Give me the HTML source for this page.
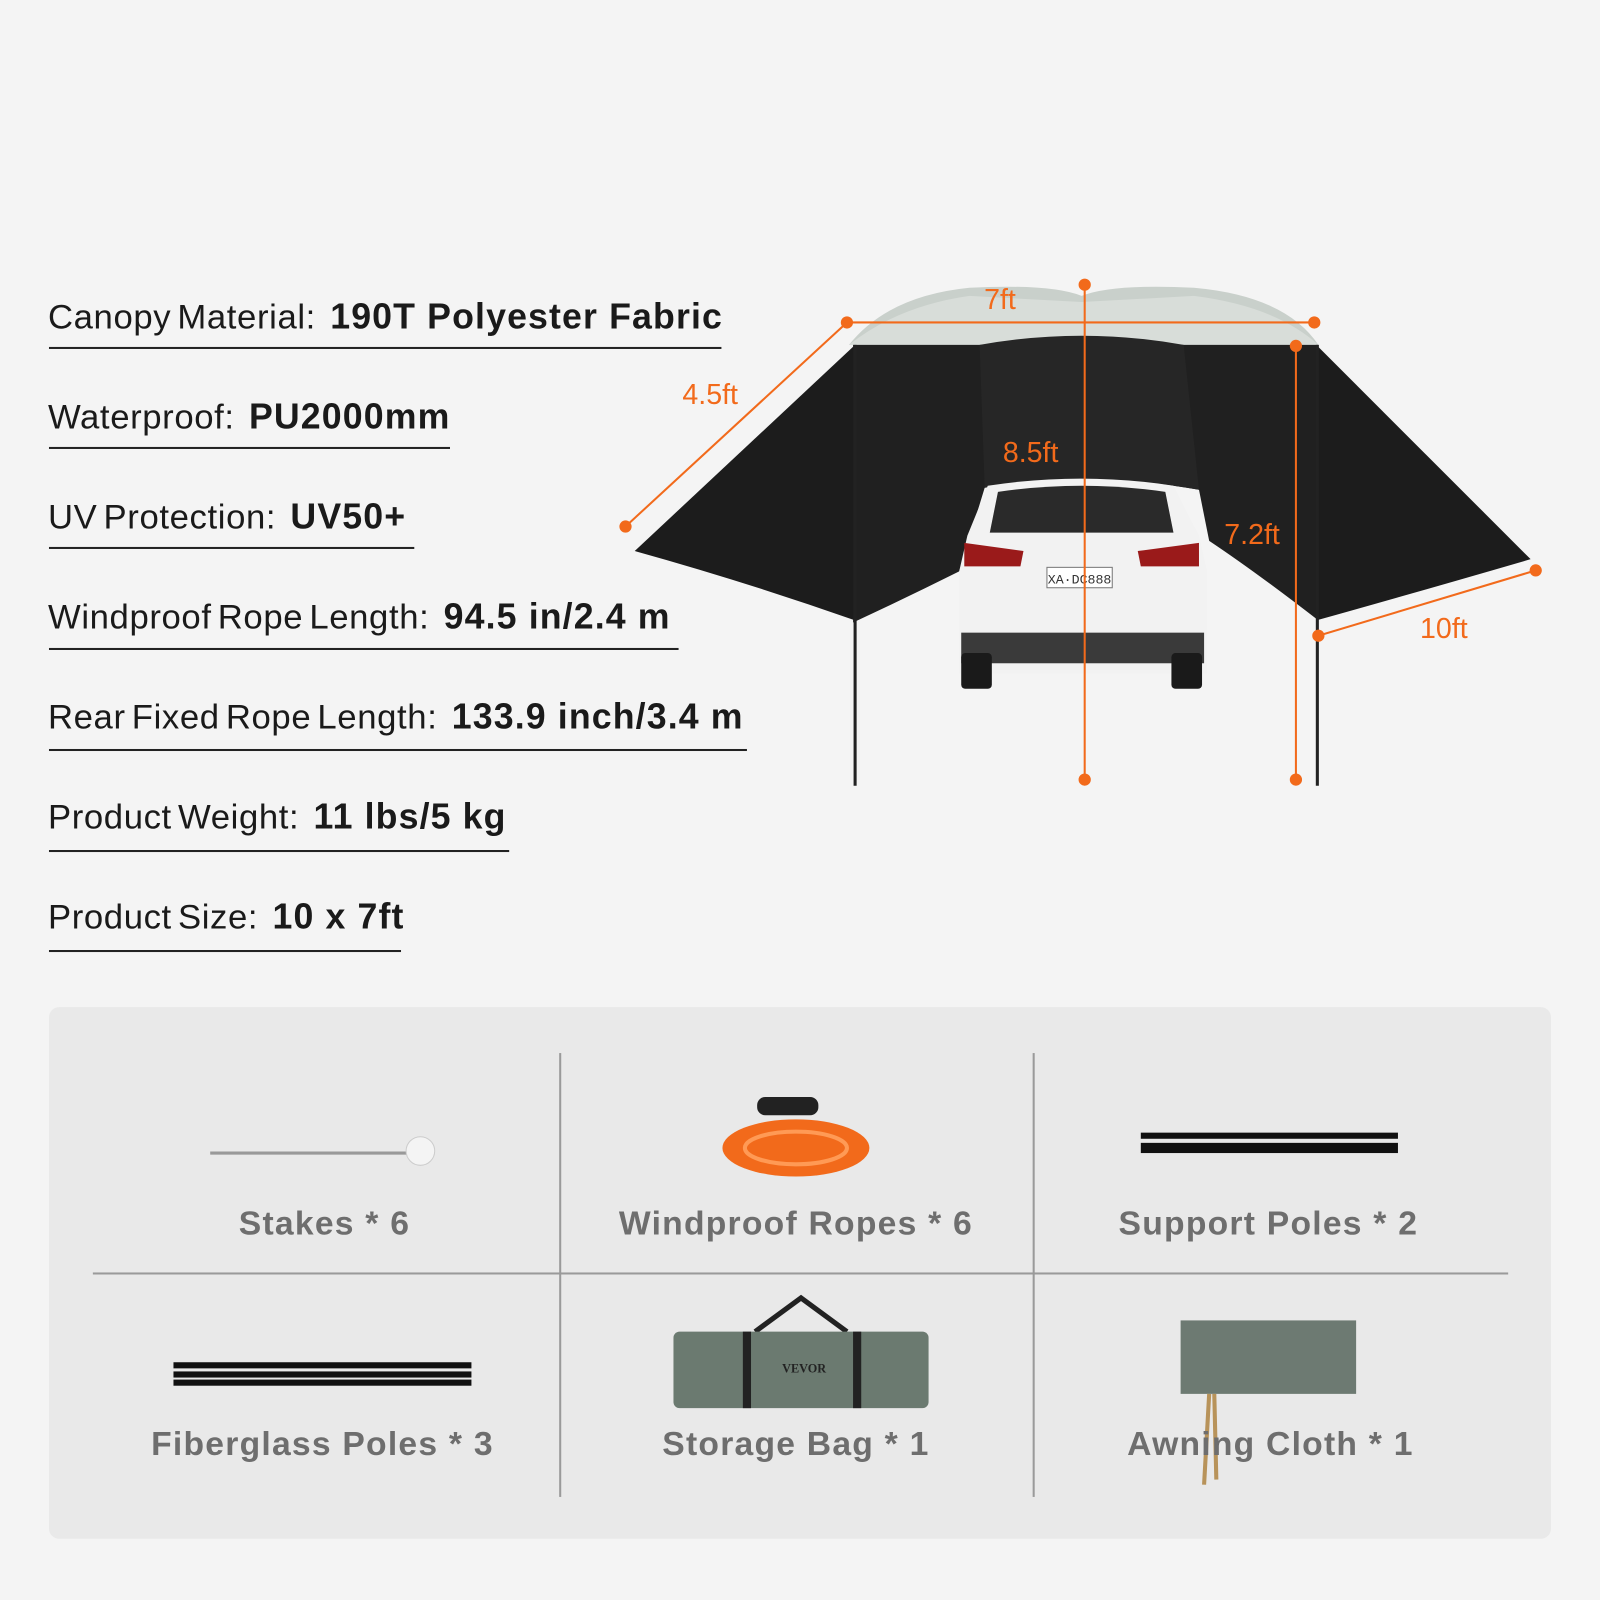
<!DOCTYPE html>
<html><head><meta charset="utf-8"><style>
html,body{margin:0;padding:0;background:#f4f4f4;}
#w{width:1568px;height:1568px;transform:scale(1.020408);transform-origin:0 0;position:relative;font-family:"Liberation Sans",Arial,sans-serif;}
.spec{position:absolute;left:47px;font-size:34px;color:#1a1a1a;white-space:nowrap;letter-spacing:0.6px;word-spacing:-4px}
.spec b{font-weight:bold;font-size:35px;margin-left:14px;letter-spacing:1.1px;word-spacing:0}
.ul{position:absolute;left:48px;height:2px;background:#222}
.panel{position:absolute;left:48px;top:987px;width:1472px;height:521px;background:#e9e9e9;border-radius:10px}
.lab{position:absolute;font-size:33px;font-weight:bold;color:#6e6e6e;transform:translateX(-50%);white-space:nowrap;letter-spacing:1.2px}
</style></head><body><div id="w">
<div class="spec" style="top:291px">Canopy Material:<b>190T Polyester Fabric</b></div><div class="ul" style="top:340px;width:659px"></div>
<div class="spec" style="top:389px">Waterproof:<b>PU2000mm</b></div><div class="ul" style="top:438px;width:393px"></div>
<div class="spec" style="top:487px">UV Protection:<b>UV50+</b></div><div class="ul" style="top:536px;width:358px"></div>
<div class="spec" style="top:585px">Windproof Rope Length:<b>94.5 in/2.4 m</b></div><div class="ul" style="top:635px;width:617px"></div>
<div class="spec" style="top:683px">Rear Fixed Rope Length:<b>133.9 inch/3.4 m</b></div><div class="ul" style="top:734px;width:684px"></div>
<div class="spec" style="top:781px">Product Weight:<b>11 lbs/5 kg</b></div><div class="ul" style="top:833px;width:451px"></div>
<div class="spec" style="top:879px">Product Size:<b>10 x 7ft</b></div><div class="ul" style="top:931px;width:345px"></div>

<svg style="position:absolute;left:0;top:0" width="1568" height="980">
<path d="M832,338 Q870,290 950,282 Q1030,278 1060,290 Q1090,278 1170,282 Q1260,290 1292,338 Z" fill="#c9d0cb"/>
<path d="M832,338 Q880,300 950,290 L1060,296 L1170,290 Q1250,300 1292,338 Z" fill="#d8ddd9"/>
<path d="M838,338 L622,540 Q730,570 838,608 Z" fill="#1c1c1c"/>
<path d="M1290,338 L1500,548 Q1390,580 1290,608 Z" fill="#1c1c1c"/>
<path d="M836,338 L1292,338 L1292,608 Q1230,560 1185,530 L1175,480 Q1060,460 965,478 L940,560 Q890,585 836,610 Z" fill="#202020"/>
<path d="M960,338 Q1060,320 1160,338 L1175,480 Q1060,460 965,478 Z" fill="#262626"/>
<line x1="838" y1="338" x2="838" y2="770" stroke="#222" stroke-width="3"/>
<line x1="1291" y1="338" x2="1291" y2="770" stroke="#222" stroke-width="3"/>
<path d="M968,476 Q1060,462 1150,476 L1175,525 L1183,560 L1183,660 L940,660 L940,560 L948,525 Z" fill="#f2f2f2"/>
<path d="M978,482 Q1060,470 1142,482 L1150,522 L970,522 Z" fill="#2a2a2a"/>
<path d="M945,532 L1003,540 L1000,555 L945,555 Z" fill="#9a1a1a"/>
<path d="M1175,532 L1115,540 L1118,555 L1175,555 Z" fill="#9a1a1a"/>
<rect x="1026" y="556" width="64" height="20" fill="#fff" stroke="#777"/>
<text x="1058" y="572" font-size="13" text-anchor="middle" font-family="Liberation Mono" fill="#333">XA·DC888</text>
<rect x="942" y="620" width="238" height="30" fill="#3a3a3a"/>
<rect x="942" y="640" width="30" height="35" rx="4" fill="#1a1a1a"/>
<rect x="1148" y="640" width="30" height="35" rx="4" fill="#1a1a1a"/>
<g stroke="#f26a1b" stroke-width="2" fill="#f26a1b">
<line x1="830" y1="316" x2="1288" y2="316"/><line x1="613" y1="516" x2="830" y2="316"/>
<line x1="1063" y1="279" x2="1063" y2="764"/><line x1="1270" y1="339" x2="1270" y2="764"/>
<line x1="1292" y1="623" x2="1505" y2="559"/>
<circle cx="830" cy="316" r="5"/><circle cx="1288" cy="316" r="5"/><circle cx="613" cy="516" r="5"/>
<circle cx="1063" cy="279" r="5"/><circle cx="1063" cy="764" r="5"/><circle cx="1270" cy="339" r="5"/>
<circle cx="1270" cy="764" r="5"/><circle cx="1292" cy="623" r="5"/><circle cx="1505" cy="559" r="5"/>
</g>
<g fill="#f26a1b" font-size="28" font-family="Liberation Sans" text-anchor="middle">
<text x="980" y="303">7ft</text><text x="696" y="396">4.5ft</text><text x="1010" y="453">8.5ft</text>
<text x="1227" y="533">7.2ft</text><text x="1415" y="625">10ft</text></g>
</svg>

<div class="panel"></div>
<div style="position:absolute;left:548px;top:1032px;width:2px;height:435px;background:#9a9a9a"></div>
<div style="position:absolute;left:1012px;top:1032px;width:2px;height:435px;background:#9a9a9a"></div>
<div style="position:absolute;left:91px;top:1247px;width:1387px;height:2px;background:#9a9a9a"></div>
<svg style="position:absolute;left:0;top:0" width="1568" height="1568">
<line x1="206" y1="1130" x2="420" y2="1130" stroke="#999" stroke-width="3"/>
<circle cx="412" cy="1128" r="14" fill="#f4f4f4" stroke="#ccc"/>
<ellipse cx="780" cy="1125" rx="72" ry="28" fill="#f26a1b"/>
<ellipse cx="780" cy="1125" rx="50" ry="16" fill="none" stroke="#ff9a55" stroke-width="4"/>
<rect x="742" y="1075" width="60" height="18" rx="8" fill="#222"/>
<rect x="1118" y="1110" width="252" height="6" fill="#111"/><rect x="1118" y="1120" width="252" height="10" fill="#111"/>
<rect x="170" y="1335" width="292" height="6" fill="#111"/><rect x="170" y="1344" width="292" height="6" fill="#111"/><rect x="170" y="1352" width="292" height="6" fill="#111"/>
<path d="M740,1305 L785,1272 L830,1305" fill="none" stroke="#222" stroke-width="5"/>
<rect x="660" y="1305" width="250" height="75" rx="6" fill="#6b7a70"/>
<rect x="728" y="1305" width="8" height="75" fill="#222"/><rect x="836" y="1305" width="8" height="75" fill="#222"/>
<text x="788" y="1345" font-size="12" font-weight="bold" text-anchor="middle" fill="#222" font-family="Liberation Serif">VEVOR</text>
<rect x="1157" y="1294" width="172" height="72" fill="#6d7a72"/>
<path d="M1185,1366 L1180,1455 M1190,1366 L1192,1450" stroke="#b8935a" stroke-width="4"/>
</svg>
<div class="lab" style="left:318px;top:1180px">Stakes * 6</div>
<div class="lab" style="left:780px;top:1180px">Windproof Ropes * 6</div>
<div class="lab" style="left:1243px;top:1180px">Support Poles * 2</div>
<div class="lab" style="left:316px;top:1396px">Fiberglass Poles * 3</div>
<div class="lab" style="left:780px;top:1396px">Storage Bag * 1</div>
<div class="lab" style="left:1245px;top:1396px">Awning Cloth * 1</div>
</div></body></html>
